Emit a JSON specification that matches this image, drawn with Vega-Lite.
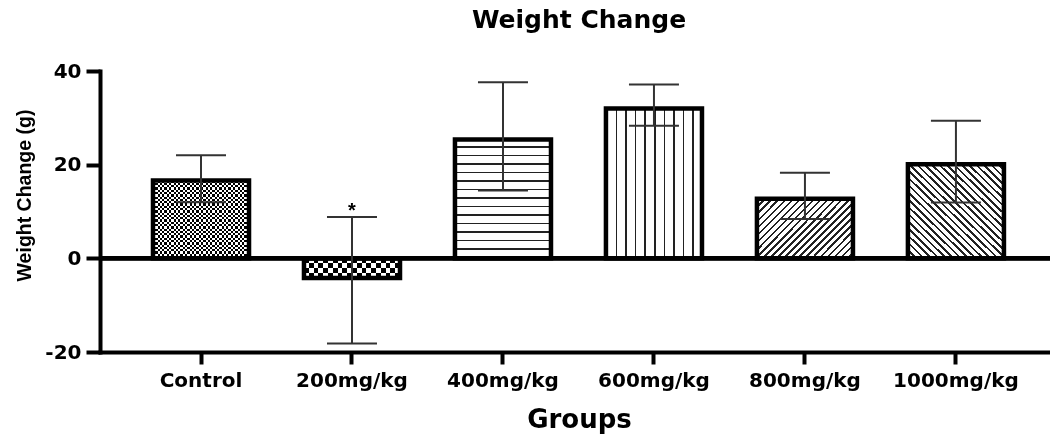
{
  "$schema": "https://vega.github.io/schema/vega-lite/v6.json",
  "width": 950,
  "height": 281,
  "autosize": "none",
  "padding": {"left": 100, "top": 71, "right": 0, "bottom": 84},
  "background": "white",
  "config": {
    "view": {"stroke": null},
    "axisY": {"grid": false, "domainColor": "black", "domainWidth": 4, "domainCap": "square", "tickColor": "black", "tickWidth": 4, "tickSize": 14, "labelFont": "DejaVu Sans", "labelFontSize": 20, "labelFontWeight": "bold", "labelColor": "black", "labelPadding": 5, "titleFont": "Liberation Sans", "titleFontSize": 19.5, "titleFontWeight": "bold", "titleColor": "black", "titleX": -66, "titleY": 124, "titleBaseline": "bottom", "titleAlign": "center", "titleAngle": -90},
    "axisX": {"grid": false, "labelAngle": 0, "domainColor": "black", "domainWidth": 4, "domainCap": "square", "tickColor": "black", "tickWidth": 4, "tickSize": 12, "labelFont": "DejaVu Sans", "labelFontSize": 20, "labelFontWeight": "bold", "labelColor": "black", "labelPadding": 6, "titleFont": "DejaVu Sans", "titleFontSize": 26, "titleFontWeight": "bold", "titleColor": "black", "titleY": 75.5, "titleX": 479, "titleBaseline": "alphabetic"}
  },
  "title": {"text": "Weight Change", "font": "DejaVu Sans", "fontSize": 25, "fontWeight": "bold", "color": "black", "frame": "group", "anchor": "middle", "baseline": "alphabetic", "offset": 8, "dx": 4},
  "data": {"values": [
    {"g": "Control", "mean": 16.6, "lo": 12.0, "hi": 22.0, "sig": ""},
    {"g": "200mg/kg", "mean": -4.2, "lo": -18.2, "hi": 8.8, "sig": "*"},
    {"g": "400mg/kg", "mean": 25.4, "lo": 14.5, "hi": 37.6, "sig": ""},
    {"g": "600mg/kg", "mean": 32.0, "lo": 28.3, "hi": 37.1, "sig": ""},
    {"g": "800mg/kg", "mean": 12.7, "lo": 8.4, "hi": 18.3, "sig": ""},
    {"g": "1000mg/kg", "mean": 20.1, "lo": 11.9, "hi": 29.4, "sig": ""}
  ]},
  "layer": [
    {
      "mark": {"type": "bar", "strokeWidth": 0},
      "encoding": {
        "x": {"field": "g", "type": "nominal", "sort": null, "title": "Groups",
          "scale": {"paddingInner": 0.364, "paddingOuter": 0.328, "align": 0.535}},
        "y": {"field": "mean", "type": "quantitative", "title": "Weight Change (g)", "scale": {"domain": [-20, 40]},
          "axis": {"values": [-20, 0, 20, 40], "labelExpr": "datum.value + ''"}},
        "fill": {
          "condition": [
            {"test": "datum.g === 'Control'", "value": {"gradient": "linear", "x1": 0, "y1": 0, "x2": 0, "y2": 1, "stops": [
              {"offset": 0, "color": "#000"}, {"offset": 0.0294, "color": "#000"}, {"offset": 0.0294, "color": "#fff"}, {"offset": 0.0588, "color": "#fff"},
              {"offset": 0.0588, "color": "#000"}, {"offset": 0.0882, "color": "#000"}, {"offset": 0.0882, "color": "#fff"}, {"offset": 0.1176, "color": "#fff"},
              {"offset": 0.1176, "color": "#000"}, {"offset": 0.1471, "color": "#000"}, {"offset": 0.1471, "color": "#fff"}, {"offset": 0.1765, "color": "#fff"},
              {"offset": 0.1765, "color": "#000"}, {"offset": 0.2059, "color": "#000"}, {"offset": 0.2059, "color": "#fff"}, {"offset": 0.2353, "color": "#fff"},
              {"offset": 0.2353, "color": "#000"}, {"offset": 0.2647, "color": "#000"}, {"offset": 0.2647, "color": "#fff"}, {"offset": 0.2941, "color": "#fff"},
              {"offset": 0.2941, "color": "#000"}, {"offset": 0.3235, "color": "#000"}, {"offset": 0.3235, "color": "#fff"}, {"offset": 0.3529, "color": "#fff"},
              {"offset": 0.3529, "color": "#000"}, {"offset": 0.3824, "color": "#000"}, {"offset": 0.3824, "color": "#fff"}, {"offset": 0.4118, "color": "#fff"},
              {"offset": 0.4118, "color": "#000"}, {"offset": 0.4412, "color": "#000"}, {"offset": 0.4412, "color": "#fff"}, {"offset": 0.4706, "color": "#fff"},
              {"offset": 0.4706, "color": "#000"}, {"offset": 0.5, "color": "#000"}, {"offset": 0.5, "color": "#fff"}, {"offset": 0.5294, "color": "#fff"},
              {"offset": 0.5294, "color": "#000"}, {"offset": 0.5588, "color": "#000"}, {"offset": 0.5588, "color": "#fff"}, {"offset": 0.5882, "color": "#fff"},
              {"offset": 0.5882, "color": "#000"}, {"offset": 0.6176, "color": "#000"}, {"offset": 0.6176, "color": "#fff"}, {"offset": 0.6471, "color": "#fff"},
              {"offset": 0.6471, "color": "#000"}, {"offset": 0.6765, "color": "#000"}, {"offset": 0.6765, "color": "#fff"}, {"offset": 0.7059, "color": "#fff"},
              {"offset": 0.7059, "color": "#000"}, {"offset": 0.7353, "color": "#000"}, {"offset": 0.7353, "color": "#fff"}, {"offset": 0.7647, "color": "#fff"},
              {"offset": 0.7647, "color": "#000"}, {"offset": 0.7941, "color": "#000"}, {"offset": 0.7941, "color": "#fff"}, {"offset": 0.8235, "color": "#fff"},
              {"offset": 0.8235, "color": "#000"}, {"offset": 0.8529, "color": "#000"}, {"offset": 0.8529, "color": "#fff"}, {"offset": 0.8824, "color": "#fff"},
              {"offset": 0.8824, "color": "#000"}, {"offset": 0.9118, "color": "#000"}, {"offset": 0.9118, "color": "#fff"}, {"offset": 0.9412, "color": "#fff"},
              {"offset": 0.9412, "color": "#000"}, {"offset": 0.9706, "color": "#000"}, {"offset": 0.9706, "color": "#fff"}, {"offset": 1, "color": "#fff"}
            ]}},
            {"test": "datum.g === '200mg/kg'", "value": {"gradient": "linear", "x1": 0, "y1": 0, "x2": 0, "y2": 1, "stops": [
              {"offset": 0, "color": "#000"}, {"offset": 0.25, "color": "#000"}, {"offset": 0.25, "color": "#fff"}, {"offset": 0.5, "color": "#fff"},
              {"offset": 0.5, "color": "#000"}, {"offset": 0.75, "color": "#000"}, {"offset": 0.75, "color": "#fff"}, {"offset": 1, "color": "#fff"}
            ]}},
            {"test": "datum.g === '400mg/kg'", "value": {"gradient": "linear", "x1": 0, "y1": 0, "x2": 0, "y2": 1, "stops": [
              {"offset": 0, "color": "#fff"}, {"offset": 0.0571, "color": "#fff"}, {"offset": 0.0571, "color": "#222"}, {"offset": 0.0714, "color": "#222"},
              {"offset": 0.0714, "color": "#fff"}, {"offset": 0.1286, "color": "#fff"}, {"offset": 0.1286, "color": "#222"}, {"offset": 0.1429, "color": "#222"},
              {"offset": 0.1429, "color": "#fff"}, {"offset": 0.2, "color": "#fff"}, {"offset": 0.2, "color": "#222"}, {"offset": 0.2143, "color": "#222"},
              {"offset": 0.2143, "color": "#fff"}, {"offset": 0.2714, "color": "#fff"}, {"offset": 0.2714, "color": "#222"}, {"offset": 0.2857, "color": "#222"},
              {"offset": 0.2857, "color": "#fff"}, {"offset": 0.3429, "color": "#fff"}, {"offset": 0.3429, "color": "#222"}, {"offset": 0.3571, "color": "#222"},
              {"offset": 0.3571, "color": "#fff"}, {"offset": 0.4143, "color": "#fff"}, {"offset": 0.4143, "color": "#222"}, {"offset": 0.4286, "color": "#222"},
              {"offset": 0.4286, "color": "#fff"}, {"offset": 0.4857, "color": "#fff"}, {"offset": 0.4857, "color": "#222"}, {"offset": 0.5, "color": "#222"},
              {"offset": 0.5, "color": "#fff"}, {"offset": 0.5571, "color": "#fff"}, {"offset": 0.5571, "color": "#222"}, {"offset": 0.5714, "color": "#222"},
              {"offset": 0.5714, "color": "#fff"}, {"offset": 0.6286, "color": "#fff"}, {"offset": 0.6286, "color": "#222"}, {"offset": 0.6429, "color": "#222"},
              {"offset": 0.6429, "color": "#fff"}, {"offset": 0.7, "color": "#fff"}, {"offset": 0.7, "color": "#222"}, {"offset": 0.7143, "color": "#222"},
              {"offset": 0.7143, "color": "#fff"}, {"offset": 0.7714, "color": "#fff"}, {"offset": 0.7714, "color": "#222"}, {"offset": 0.7857, "color": "#222"},
              {"offset": 0.7857, "color": "#fff"}, {"offset": 0.8429, "color": "#fff"}, {"offset": 0.8429, "color": "#222"}, {"offset": 0.8571, "color": "#222"},
              {"offset": 0.8571, "color": "#fff"}, {"offset": 0.9143, "color": "#fff"}, {"offset": 0.9143, "color": "#222"}, {"offset": 0.9286, "color": "#222"},
              {"offset": 0.9286, "color": "#fff"}, {"offset": 0.9857, "color": "#fff"}, {"offset": 0.9857, "color": "#222"}, {"offset": 1, "color": "#222"}
            ]}},
            {"test": "datum.g === '600mg/kg'", "value": {"gradient": "linear", "x1": 0, "y1": 0, "x2": 1, "y2": 0, "stops": [
              {"offset": 0, "color": "#222"}, {"offset": 0.017, "color": "#222"}, {"offset": 0.017, "color": "#fff"}, {"offset": 0.1, "color": "#fff"},
              {"offset": 0.1, "color": "#222"}, {"offset": 0.117, "color": "#222"}, {"offset": 0.117, "color": "#fff"}, {"offset": 0.2, "color": "#fff"},
              {"offset": 0.2, "color": "#222"}, {"offset": 0.217, "color": "#222"}, {"offset": 0.217, "color": "#fff"}, {"offset": 0.3, "color": "#fff"},
              {"offset": 0.3, "color": "#222"}, {"offset": 0.317, "color": "#222"}, {"offset": 0.317, "color": "#fff"}, {"offset": 0.4, "color": "#fff"},
              {"offset": 0.4, "color": "#222"}, {"offset": 0.417, "color": "#222"}, {"offset": 0.417, "color": "#fff"}, {"offset": 0.5, "color": "#fff"},
              {"offset": 0.5, "color": "#222"}, {"offset": 0.517, "color": "#222"}, {"offset": 0.517, "color": "#fff"}, {"offset": 0.6, "color": "#fff"},
              {"offset": 0.6, "color": "#222"}, {"offset": 0.617, "color": "#222"}, {"offset": 0.617, "color": "#fff"}, {"offset": 0.7, "color": "#fff"},
              {"offset": 0.7, "color": "#222"}, {"offset": 0.717, "color": "#222"}, {"offset": 0.717, "color": "#fff"}, {"offset": 0.8, "color": "#fff"},
              {"offset": 0.8, "color": "#222"}, {"offset": 0.817, "color": "#222"}, {"offset": 0.817, "color": "#fff"}, {"offset": 0.9, "color": "#fff"},
              {"offset": 0.9, "color": "#222"}, {"offset": 0.917, "color": "#222"}, {"offset": 0.917, "color": "#fff"}, {"offset": 1, "color": "#fff"}
            ]}},
            {"test": "datum.g === '800mg/kg'", "value": {"gradient": "linear", "x1": 0, "y1": 0, "x2": 1.172, "y2": 0.721, "stops": [
              {"offset": 0, "color": "#222"}, {"offset": 0.0164, "color": "#222"}, {"offset": 0.0164, "color": "#fff"}, {"offset": 0.0455, "color": "#fff"},
              {"offset": 0.0455, "color": "#222"}, {"offset": 0.0618, "color": "#222"}, {"offset": 0.0618, "color": "#fff"}, {"offset": 0.0909, "color": "#fff"},
              {"offset": 0.0909, "color": "#222"}, {"offset": 0.1073, "color": "#222"}, {"offset": 0.1073, "color": "#fff"}, {"offset": 0.1364, "color": "#fff"},
              {"offset": 0.1364, "color": "#222"}, {"offset": 0.1527, "color": "#222"}, {"offset": 0.1527, "color": "#fff"}, {"offset": 0.1818, "color": "#fff"},
              {"offset": 0.1818, "color": "#222"}, {"offset": 0.1982, "color": "#222"}, {"offset": 0.1982, "color": "#fff"}, {"offset": 0.2273, "color": "#fff"},
              {"offset": 0.2273, "color": "#222"}, {"offset": 0.2436, "color": "#222"}, {"offset": 0.2436, "color": "#fff"}, {"offset": 0.2727, "color": "#fff"},
              {"offset": 0.2727, "color": "#222"}, {"offset": 0.2891, "color": "#222"}, {"offset": 0.2891, "color": "#fff"}, {"offset": 0.3182, "color": "#fff"},
              {"offset": 0.3182, "color": "#222"}, {"offset": 0.3345, "color": "#222"}, {"offset": 0.3345, "color": "#fff"}, {"offset": 0.3636, "color": "#fff"},
              {"offset": 0.3636, "color": "#222"}, {"offset": 0.38, "color": "#222"}, {"offset": 0.38, "color": "#fff"}, {"offset": 0.4091, "color": "#fff"},
              {"offset": 0.4091, "color": "#222"}, {"offset": 0.4255, "color": "#222"}, {"offset": 0.4255, "color": "#fff"}, {"offset": 0.4545, "color": "#fff"},
              {"offset": 0.4545, "color": "#222"}, {"offset": 0.4709, "color": "#222"}, {"offset": 0.4709, "color": "#fff"}, {"offset": 0.5, "color": "#fff"},
              {"offset": 0.5, "color": "#222"}, {"offset": 0.5164, "color": "#222"}, {"offset": 0.5164, "color": "#fff"}, {"offset": 0.5455, "color": "#fff"},
              {"offset": 0.5455, "color": "#222"}, {"offset": 0.5618, "color": "#222"}, {"offset": 0.5618, "color": "#fff"}, {"offset": 0.5909, "color": "#fff"},
              {"offset": 0.5909, "color": "#222"}, {"offset": 0.6073, "color": "#222"}, {"offset": 0.6073, "color": "#fff"}, {"offset": 0.6364, "color": "#fff"},
              {"offset": 0.6364, "color": "#222"}, {"offset": 0.6527, "color": "#222"}, {"offset": 0.6527, "color": "#fff"}, {"offset": 0.6818, "color": "#fff"},
              {"offset": 0.6818, "color": "#222"}, {"offset": 0.6982, "color": "#222"}, {"offset": 0.6982, "color": "#fff"}, {"offset": 0.7273, "color": "#fff"},
              {"offset": 0.7273, "color": "#222"}, {"offset": 0.7436, "color": "#222"}, {"offset": 0.7436, "color": "#fff"}, {"offset": 0.7727, "color": "#fff"},
              {"offset": 0.7727, "color": "#222"}, {"offset": 0.7891, "color": "#222"}, {"offset": 0.7891, "color": "#fff"}, {"offset": 0.8182, "color": "#fff"},
              {"offset": 0.8182, "color": "#222"}, {"offset": 0.8345, "color": "#222"}, {"offset": 0.8345, "color": "#fff"}, {"offset": 0.8636, "color": "#fff"},
              {"offset": 0.8636, "color": "#222"}, {"offset": 0.88, "color": "#222"}, {"offset": 0.88, "color": "#fff"}, {"offset": 0.9091, "color": "#fff"},
              {"offset": 0.9091, "color": "#222"}, {"offset": 0.9255, "color": "#222"}, {"offset": 0.9255, "color": "#fff"}, {"offset": 0.9545, "color": "#fff"},
              {"offset": 0.9545, "color": "#222"}, {"offset": 0.9709, "color": "#222"}, {"offset": 0.9709, "color": "#fff"}, {"offset": 1, "color": "#fff"}
            ]}},
            {"test": "datum.g === '1000mg/kg'", "value": {"gradient": "linear", "x1": 0, "y1": 1, "x2": 1, "y2": 0, "stops": [
              {"offset": 0, "color": "#222"}, {"offset": 0.0138, "color": "#222"}, {"offset": 0.0138, "color": "#fff"}, {"offset": 0.0385, "color": "#fff"},
              {"offset": 0.0385, "color": "#222"}, {"offset": 0.0523, "color": "#222"}, {"offset": 0.0523, "color": "#fff"}, {"offset": 0.0769, "color": "#fff"},
              {"offset": 0.0769, "color": "#222"}, {"offset": 0.0908, "color": "#222"}, {"offset": 0.0908, "color": "#fff"}, {"offset": 0.1154, "color": "#fff"},
              {"offset": 0.1154, "color": "#222"}, {"offset": 0.1292, "color": "#222"}, {"offset": 0.1292, "color": "#fff"}, {"offset": 0.1538, "color": "#fff"},
              {"offset": 0.1538, "color": "#222"}, {"offset": 0.1677, "color": "#222"}, {"offset": 0.1677, "color": "#fff"}, {"offset": 0.1923, "color": "#fff"},
              {"offset": 0.1923, "color": "#222"}, {"offset": 0.2062, "color": "#222"}, {"offset": 0.2062, "color": "#fff"}, {"offset": 0.2308, "color": "#fff"},
              {"offset": 0.2308, "color": "#222"}, {"offset": 0.2446, "color": "#222"}, {"offset": 0.2446, "color": "#fff"}, {"offset": 0.2692, "color": "#fff"},
              {"offset": 0.2692, "color": "#222"}, {"offset": 0.2831, "color": "#222"}, {"offset": 0.2831, "color": "#fff"}, {"offset": 0.3077, "color": "#fff"},
              {"offset": 0.3077, "color": "#222"}, {"offset": 0.3215, "color": "#222"}, {"offset": 0.3215, "color": "#fff"}, {"offset": 0.3462, "color": "#fff"},
              {"offset": 0.3462, "color": "#222"}, {"offset": 0.36, "color": "#222"}, {"offset": 0.36, "color": "#fff"}, {"offset": 0.3846, "color": "#fff"},
              {"offset": 0.3846, "color": "#222"}, {"offset": 0.3985, "color": "#222"}, {"offset": 0.3985, "color": "#fff"}, {"offset": 0.4231, "color": "#fff"},
              {"offset": 0.4231, "color": "#222"}, {"offset": 0.4369, "color": "#222"}, {"offset": 0.4369, "color": "#fff"}, {"offset": 0.4615, "color": "#fff"},
              {"offset": 0.4615, "color": "#222"}, {"offset": 0.4754, "color": "#222"}, {"offset": 0.4754, "color": "#fff"}, {"offset": 0.5, "color": "#fff"},
              {"offset": 0.5, "color": "#222"}, {"offset": 0.5138, "color": "#222"}, {"offset": 0.5138, "color": "#fff"}, {"offset": 0.5385, "color": "#fff"},
              {"offset": 0.5385, "color": "#222"}, {"offset": 0.5523, "color": "#222"}, {"offset": 0.5523, "color": "#fff"}, {"offset": 0.5769, "color": "#fff"},
              {"offset": 0.5769, "color": "#222"}, {"offset": 0.5908, "color": "#222"}, {"offset": 0.5908, "color": "#fff"}, {"offset": 0.6154, "color": "#fff"},
              {"offset": 0.6154, "color": "#222"}, {"offset": 0.6292, "color": "#222"}, {"offset": 0.6292, "color": "#fff"}, {"offset": 0.6538, "color": "#fff"},
              {"offset": 0.6538, "color": "#222"}, {"offset": 0.6677, "color": "#222"}, {"offset": 0.6677, "color": "#fff"}, {"offset": 0.6923, "color": "#fff"},
              {"offset": 0.6923, "color": "#222"}, {"offset": 0.7062, "color": "#222"}, {"offset": 0.7062, "color": "#fff"}, {"offset": 0.7308, "color": "#fff"},
              {"offset": 0.7308, "color": "#222"}, {"offset": 0.7446, "color": "#222"}, {"offset": 0.7446, "color": "#fff"}, {"offset": 0.7692, "color": "#fff"},
              {"offset": 0.7692, "color": "#222"}, {"offset": 0.7831, "color": "#222"}, {"offset": 0.7831, "color": "#fff"}, {"offset": 0.8077, "color": "#fff"},
              {"offset": 0.8077, "color": "#222"}, {"offset": 0.8215, "color": "#222"}, {"offset": 0.8215, "color": "#fff"}, {"offset": 0.8462, "color": "#fff"},
              {"offset": 0.8462, "color": "#222"}, {"offset": 0.86, "color": "#222"}, {"offset": 0.86, "color": "#fff"}, {"offset": 0.8846, "color": "#fff"},
              {"offset": 0.8846, "color": "#222"}, {"offset": 0.8985, "color": "#222"}, {"offset": 0.8985, "color": "#fff"}, {"offset": 0.9231, "color": "#fff"},
              {"offset": 0.9231, "color": "#222"}, {"offset": 0.9369, "color": "#222"}, {"offset": 0.9369, "color": "#fff"}, {"offset": 0.9615, "color": "#fff"},
              {"offset": 0.9615, "color": "#222"}, {"offset": 0.9754, "color": "#222"}, {"offset": 0.9754, "color": "#fff"}, {"offset": 1, "color": "#fff"}
            ]}}
          ],
          "value": "white"
        }
      }
    },
    {
      "transform": [{"filter": "datum.g === 'Control' || datum.g === '200mg/kg'"}],
      "mark": {"type": "bar", "strokeWidth": 0, "blend": "difference"},
      "encoding": {
        "x": {"field": "g", "type": "nominal", "sort": null, "title": "Groups"},
        "y": {"field": "mean", "type": "quantitative", "title": "Weight Change (g)"},
        "fill": {
          "condition": {"test": "datum.g === 'Control'", "value": {"gradient": "linear", "x1": 0, "y1": 0, "x2": 1, "y2": 0, "stops": [
            {"offset": 0, "color": "#000"}, {"offset": 0.0238, "color": "#000"}, {"offset": 0.0238, "color": "#fff"}, {"offset": 0.0476, "color": "#fff"},
            {"offset": 0.0476, "color": "#000"}, {"offset": 0.0714, "color": "#000"}, {"offset": 0.0714, "color": "#fff"}, {"offset": 0.0952, "color": "#fff"},
            {"offset": 0.0952, "color": "#000"}, {"offset": 0.119, "color": "#000"}, {"offset": 0.119, "color": "#fff"}, {"offset": 0.1429, "color": "#fff"},
            {"offset": 0.1429, "color": "#000"}, {"offset": 0.1667, "color": "#000"}, {"offset": 0.1667, "color": "#fff"}, {"offset": 0.1905, "color": "#fff"},
            {"offset": 0.1905, "color": "#000"}, {"offset": 0.2143, "color": "#000"}, {"offset": 0.2143, "color": "#fff"}, {"offset": 0.2381, "color": "#fff"},
            {"offset": 0.2381, "color": "#000"}, {"offset": 0.2619, "color": "#000"}, {"offset": 0.2619, "color": "#fff"}, {"offset": 0.2857, "color": "#fff"},
            {"offset": 0.2857, "color": "#000"}, {"offset": 0.3095, "color": "#000"}, {"offset": 0.3095, "color": "#fff"}, {"offset": 0.3333, "color": "#fff"},
            {"offset": 0.3333, "color": "#000"}, {"offset": 0.3571, "color": "#000"}, {"offset": 0.3571, "color": "#fff"}, {"offset": 0.381, "color": "#fff"},
            {"offset": 0.381, "color": "#000"}, {"offset": 0.4048, "color": "#000"}, {"offset": 0.4048, "color": "#fff"}, {"offset": 0.4286, "color": "#fff"},
            {"offset": 0.4286, "color": "#000"}, {"offset": 0.4524, "color": "#000"}, {"offset": 0.4524, "color": "#fff"}, {"offset": 0.4762, "color": "#fff"},
            {"offset": 0.4762, "color": "#000"}, {"offset": 0.5, "color": "#000"}, {"offset": 0.5, "color": "#fff"}, {"offset": 0.5238, "color": "#fff"},
            {"offset": 0.5238, "color": "#000"}, {"offset": 0.5476, "color": "#000"}, {"offset": 0.5476, "color": "#fff"}, {"offset": 0.5714, "color": "#fff"},
            {"offset": 0.5714, "color": "#000"}, {"offset": 0.5952, "color": "#000"}, {"offset": 0.5952, "color": "#fff"}, {"offset": 0.619, "color": "#fff"},
            {"offset": 0.619, "color": "#000"}, {"offset": 0.6429, "color": "#000"}, {"offset": 0.6429, "color": "#fff"}, {"offset": 0.6667, "color": "#fff"},
            {"offset": 0.6667, "color": "#000"}, {"offset": 0.6905, "color": "#000"}, {"offset": 0.6905, "color": "#fff"}, {"offset": 0.7143, "color": "#fff"},
            {"offset": 0.7143, "color": "#000"}, {"offset": 0.7381, "color": "#000"}, {"offset": 0.7381, "color": "#fff"}, {"offset": 0.7619, "color": "#fff"},
            {"offset": 0.7619, "color": "#000"}, {"offset": 0.7857, "color": "#000"}, {"offset": 0.7857, "color": "#fff"}, {"offset": 0.8095, "color": "#fff"},
            {"offset": 0.8095, "color": "#000"}, {"offset": 0.8333, "color": "#000"}, {"offset": 0.8333, "color": "#fff"}, {"offset": 0.8571, "color": "#fff"},
            {"offset": 0.8571, "color": "#000"}, {"offset": 0.881, "color": "#000"}, {"offset": 0.881, "color": "#fff"}, {"offset": 0.9048, "color": "#fff"},
            {"offset": 0.9048, "color": "#000"}, {"offset": 0.9286, "color": "#000"}, {"offset": 0.9286, "color": "#fff"}, {"offset": 0.9524, "color": "#fff"},
            {"offset": 0.9524, "color": "#000"}, {"offset": 0.9762, "color": "#000"}, {"offset": 0.9762, "color": "#fff"}, {"offset": 1, "color": "#fff"}
          ]}},
          "value": {"gradient": "linear", "x1": 0, "y1": 0, "x2": 1, "y2": 0, "stops": [
            {"offset": 0, "color": "#000"}, {"offset": 0.05, "color": "#000"}, {"offset": 0.05, "color": "#fff"}, {"offset": 0.1, "color": "#fff"},
            {"offset": 0.1, "color": "#000"}, {"offset": 0.15, "color": "#000"}, {"offset": 0.15, "color": "#fff"}, {"offset": 0.2, "color": "#fff"},
            {"offset": 0.2, "color": "#000"}, {"offset": 0.25, "color": "#000"}, {"offset": 0.25, "color": "#fff"}, {"offset": 0.3, "color": "#fff"},
            {"offset": 0.3, "color": "#000"}, {"offset": 0.35, "color": "#000"}, {"offset": 0.35, "color": "#fff"}, {"offset": 0.4, "color": "#fff"},
            {"offset": 0.4, "color": "#000"}, {"offset": 0.45, "color": "#000"}, {"offset": 0.45, "color": "#fff"}, {"offset": 0.5, "color": "#fff"},
            {"offset": 0.5, "color": "#000"}, {"offset": 0.55, "color": "#000"}, {"offset": 0.55, "color": "#fff"}, {"offset": 0.6, "color": "#fff"},
            {"offset": 0.6, "color": "#000"}, {"offset": 0.65, "color": "#000"}, {"offset": 0.65, "color": "#fff"}, {"offset": 0.7, "color": "#fff"},
            {"offset": 0.7, "color": "#000"}, {"offset": 0.75, "color": "#000"}, {"offset": 0.75, "color": "#fff"}, {"offset": 0.8, "color": "#fff"},
            {"offset": 0.8, "color": "#000"}, {"offset": 0.85, "color": "#000"}, {"offset": 0.85, "color": "#fff"}, {"offset": 0.9, "color": "#fff"},
            {"offset": 0.9, "color": "#000"}, {"offset": 0.95, "color": "#000"}, {"offset": 0.95, "color": "#fff"}, {"offset": 1, "color": "#fff"}
          ]}
        }
      }
    },
    {
      "mark": {"type": "bar", "filled": false, "stroke": "black", "strokeWidth": 4.5, "strokeJoin": "miter"},
      "encoding": {
        "x": {"field": "g", "type": "nominal", "sort": null, "title": "Groups"},
        "y": {"field": "mean", "type": "quantitative", "title": "Weight Change (g)"}
      }
    },
    {
      "mark": {"type": "rule", "strokeWidth": 4, "color": "black"},
      "encoding": {"y": {"datum": 0, "type": "quantitative", "title": "Weight Change (g)"}}
    },
    {
      "mark": {"type": "rule", "strokeWidth": 2, "color": "#333"},
      "encoding": {
        "x": {"field": "g", "type": "nominal", "sort": null, "title": "Groups"},
        "y": {"field": "lo", "type": "quantitative", "title": "Weight Change (g)"},
        "y2": {"field": "hi"}
      }
    },
    {
      "mark": {"type": "tick", "size": 50, "thickness": 2, "color": "#333", "opacity": 1},
      "encoding": {
        "x": {"field": "g", "type": "nominal", "sort": null, "title": "Groups"},
        "y": {"field": "lo", "type": "quantitative", "title": "Weight Change (g)"}
      }
    },
    {
      "mark": {"type": "tick", "size": 50, "thickness": 2, "color": "#333", "opacity": 1},
      "encoding": {
        "x": {"field": "g", "type": "nominal", "sort": null, "title": "Groups"},
        "y": {"field": "hi", "type": "quantitative", "title": "Weight Change (g)"}
      }
    },
    {
      "transform": [{"filter": "datum.sig !== ''"}],
      "mark": {"type": "text", "font": "Liberation Sans", "fontSize": 20, "fontWeight": "bold", "baseline": "alphabetic", "color": "black"},
      "encoding": {
        "x": {"field": "g", "type": "nominal", "sort": null, "title": "Groups"},
        "y": {"field": "hi", "type": "quantitative", "title": "Weight Change (g)"},
        "text": {"field": "sig"}
      }
    }
  ]
}
